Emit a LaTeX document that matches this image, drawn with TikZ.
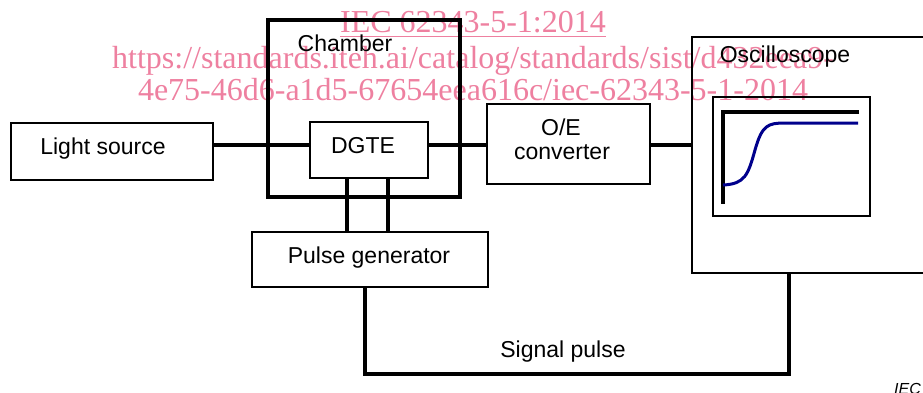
\documentclass[tikz,border=0pt]{standalone}
\usepackage{fontspec}
\setmainfont{Liberation Sans}
\newfontfamily\wmfont{Liberation Serif}
\definecolor{wmpink}{RGB}{238,128,160}
\definecolor{navy}{RGB}{0,0,140}
\begin{document}
\begin{tikzpicture}[x=1pt,y=-1pt,
  box/.style={draw,line width=1.5pt,inner sep=0pt},
  lbl/.style={anchor=base,inner sep=0pt,font=\fontsize{23}{27}\selectfont},
  wm/.style={anchor=base,inner sep=0pt,text=wmpink,font=\wmfont\fontsize{32}{36}\selectfont},
  conn/.style={line width=4pt},
  sig/.style={line width=3.5pt}]
\useasboundingbox (0,0) rectangle (923,392);
% watermark
\node[wm] (wm1) at (473,32) {IEC 62343-5-1:2014};
\draw[wmpink,line width=1.6pt] ([yshift=-4.5pt]wm1.base west) -- ([yshift=-4.5pt]wm1.base east);
\node[wm] (wm2) at (473,68) {https://standards.iteh.ai/catalog/standards/sist/d432eea9-};
\node[wm] (wm3) at (473,100) {4e75-46d6-a1d5-67654eea616c/iec-62343-5-1-2014};
% boxes
\node[box,minimum width=202pt,minimum height=57pt] (ls) at (112,151.5) {};
\node[draw,line width=3.5pt,inner sep=0pt,minimum width=192pt,minimum height=177pt] (ch) at (364,108.5) {};
\node[box,minimum width=118pt,minimum height=56pt] (dg) at (369,150) {};
\node[box,minimum width=163pt,minimum height=80pt] (oe) at (568.5,144) {};
\node[draw,line width=1.2pt,inner sep=0pt,minimum width=240pt,minimum height=236pt] (osc) at (812,155) {};
\node[box,minimum width=157pt,minimum height=119pt] (scr) at (791.5,156.5) {};
\node[box,minimum width=236pt,minimum height=55pt] (pg) at (370,259.5) {};
% labels
\node[lbl] (lsT) at (103,154) {Light source};
\node[lbl] (chT) at (345,51) {Chamber};
\node[lbl] (dgT) at (363,153) {DGTE};
\node[lbl] (oeT1) at (561,135) {O/E};
\node[lbl] (oeT2) at (562,159) {converter};
\node[lbl] (oscT) at (785,62) {Oscilloscope};
\node[lbl] (pgT) at (369,263) {Pulse generator};
\node[lbl] (sigT) at (563,357) {Signal pulse};
\node[anchor=base east,inner sep=0pt,font=\itshape\fontsize{16}{18}\selectfont] (iec) at (921,394) {IEC};
% connectors
\coordinate (cy) at (0,145);
\draw[conn] (ls.east |- cy) -- (dg.west |- cy);
\draw[conn] (dg.east |- cy) -- (oe.west |- cy);
\draw[conn] (oe.east |- cy) -- (osc.west |- cy);
\coordinate (p1) at (347,0);
\coordinate (p2) at (388,0);
\draw[conn] (dg.south -| p1) -- (pg.north -| p1);
\draw[conn] (dg.south -| p2) -- (pg.north -| p2);
\coordinate (s1) at (365,374);
\coordinate (s2) at (789,374);
\draw[sig] (pg.south -| s1) -- (s1) -- (s2) -- (osc.south -| s2);
% screen trace
\coordinate (ax1) at (859,112);
\coordinate (ax0) at (723,112);
\coordinate (ax2) at (723,204);
\draw[line width=4pt] (ax1) -- (ax0) -- (ax2);
\coordinate (c0) at (723,185);
\coordinate (c1) at (755,150);
\coordinate (c2) at (785,123);
\coordinate (c3) at (858,123);
\draw[navy,line width=3pt] (c0) .. controls (745,184) and (748,175) .. (c1) .. controls (762,125) and (768,123) .. (c2) -- (c3);
\end{tikzpicture}
\end{document}
